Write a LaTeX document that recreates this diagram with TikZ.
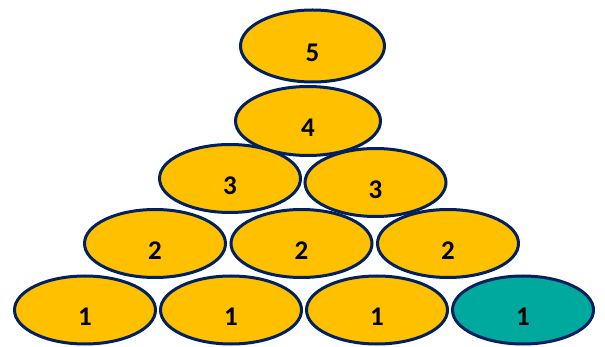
\documentclass[tikz,border=0pt]{standalone}
\usepackage{fontspec}
\setmainfont{Carlito}
\usetikzlibrary{shapes.geometric}
\definecolor{gold}{HTML}{FFC000}
\definecolor{navy}{HTML}{002060}
\definecolor{teal2}{HTML}{00A99D}
\begin{document}
\begin{tikzpicture}[x=1pt,y=-1pt,
  disc/.style={ellipse, draw=navy, line width=3pt, fill=gold,
    minimum width=141pt, minimum height=68pt, inner sep=0pt},
  num/.style={label={[font=\fontsize{27}{30}\selectfont\bfseries, yshift=-7pt]center:#1}}]
\useasboundingbox (0,0) rectangle (605,347);
\node[disc, minimum width=144pt, minimum height=72pt, num=5] (a5) at (312.5,46) {};
\node[disc, minimum width=145pt, minimum height=69pt, num=4] (a4) at (308,121) {};
\node[disc, num=3] (a3l) at (230,178.5) {};
\node[disc, num=3] (a3r) at (375.5,182.5) {};
\node[disc, num=2] (a2l) at (155,243.5) {};
\node[disc, num=2] (a2m) at (301.5,243.5) {};
\node[disc, num=2] (a2r) at (448,243.5) {};
\node[disc, num=1] (a1a) at (85,310) {};
\node[disc, num=1] (a1b) at (231,310) {};
\node[disc, num=1] (a1c) at (377,310) {};
\node[disc, fill=teal2, num=1] (a1d) at (523,310) {};
\end{tikzpicture}
\end{document}
